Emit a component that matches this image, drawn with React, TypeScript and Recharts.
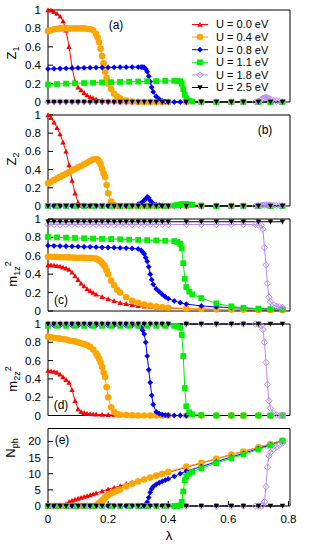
import React from 'react';
import { LineChart, Line, XAxis, YAxis } from 'recharts';

// ---------- data ----------
const lamTicks = [0, 0.2, 0.4, 0.6, 0.8];
const unitTicks = [0, 0.2, 0.4, 0.6, 0.8, 1];
const nphTicks = [0, 5, 10, 15, 20];

// U = 0.0 eV
const lamU00 = [0,0.01,0.02,0.03,0.04,0.05,0.06,0.07,0.08,0.09,0.1,0.11,0.12,0.13,0.14,0.15,0.16,0.18,0.2,0.22,0.24,0.26,0.28,0.3,0.32,0.34,0.36,0.38,0.4,0.46,0.51,0.56,0.61,0.65,0.7,0.74,0.78];
const z1U00 = [1,0.995,0.98,0.96,0.93,0.88,0.78,0.6,0.38,0.22,0.16,0.13,0.1,0.075,0.055,0.04,0.03,0.015,0.008,0.004,0,0,0,0,0,0,0,0,0,0,0,0,0,0,0,0,0];
const z2U00 = [1,0.97,0.92,0.86,0.79,0.7,0.6,0.45,0.28,0.14,0.04,0.005,0,0,0,0,0,0,0,0,0,0,0,0,0,0,0,0,0,0,0,0,0,0,0,0,0];
const m1U00 = [0.5,0.5,0.495,0.49,0.485,0.475,0.465,0.45,0.42,0.38,0.34,0.3,0.27,0.24,0.22,0.2,0.18,0.155,0.13,0.11,0.09,0.078,0.066,0.056,0.05,0.045,0.04,0.036,0.032,0.025,0.02,0.016,0.014,0.012,0.011,0.01,0.009];
const m2U00 = [0.49,0.485,0.48,0.47,0.45,0.42,0.39,0.36,0.28,0.16,0.07,0.04,0.03,0.022,0.018,0.015,0.013,0.01,0.008,0.006,0.005,0.004,0.003,0,0,0,0,0,0,0,0,0,0,0,0,0,0];
const nU00 = [0,0,0,0,0.05,0.2,0.6,1.3,1.7,2,2.3,2.6,2.9,3.1,3.4,3.7,4,4.6,5.2,5.7,6.2,6.8,7.3,7.9,8.4,8.9,9.4,9.9,10.4,12,13.3,14.6,15.9,16.9,18.2,19.2,20.3];

// U = 0.4 eV
const lamU04 = [0,0.01,0.02,0.03,0.04,0.05,0.06,0.07,0.08,0.09,0.1,0.11,0.12,0.13,0.14,0.15,0.16,0.165,0.17,0.175,0.18,0.185,0.19,0.195,0.2,0.21,0.22,0.23,0.24,0.26,0.28,0.3,0.32,0.34,0.36,0.38,0.4,0.46,0.51,0.56,0.61,0.65,0.7,0.74,0.78];
const z1U04 = [0.77,0.78,0.79,0.795,0.8,0.8,0.8,0.8,0.8,0.8,0.8,0.8,0.8,0.795,0.79,0.78,0.74,0.7,0.65,0.58,0.5,0.42,0.33,0.26,0.2,0.14,0.09,0.06,0.04,0.015,0.005,0,0,0,0,0,0,0,0,0,0,0,0,0,0];
const z2U04 = [0.25,0.267,0.285,0.302,0.32,0.337,0.354,0.372,0.39,0.406,0.424,0.44,0.458,0.476,0.494,0.51,0.515,0.51,0.49,0.46,0.41,0.36,0.32,0.23,0.14,0.05,0.01,0,0,0,0,0,0,0,0,0,0,0,0,0,0,0,0,0,0];
const m1U04 = [0.59,0.59,0.59,0.588,0.586,0.585,0.584,0.583,0.582,0.58,0.579,0.578,0.577,0.576,0.575,0.573,0.57,0.56,0.55,0.54,0.52,0.5,0.48,0.44,0.4,0.33,0.28,0.23,0.2,0.15,0.11,0.09,0.07,0.058,0.048,0.04,0.035,0.027,0.022,0.018,0.015,0.013,0.012,0.011,0.01];
const m2U04 = [0.86,0.855,0.85,0.845,0.84,0.835,0.83,0.82,0.815,0.81,0.8,0.79,0.78,0.77,0.75,0.72,0.68,0.65,0.62,0.58,0.53,0.47,0.42,0.31,0.2,0.09,0.04,0.015,0.008,0.005,0.003,0,0,0,0,0,0,0,0,0,0,0,0,0,0];
const nU04 = [0,0,0,0,0,0,0,0,0,0,0,0,0,0,0,0,0.1,0.5,0.9,1.3,1.7,2.1,2.6,3,3.4,3.9,4.3,4.7,5.1,6.1,6.9,7.6,8.2,8.8,9.4,10,10.6,12.2,13.4,14.6,15.9,16.9,18.2,19.2,20.3];

// U = 0.8 eV
const lamU08 = [0,0.02,0.04,0.06,0.08,0.1,0.12,0.14,0.16,0.18,0.2,0.22,0.24,0.26,0.28,0.3,0.31,0.315,0.32,0.325,0.33,0.335,0.34,0.345,0.35,0.36,0.37,0.38,0.39,0.4,0.42,0.44,0.46,0.51,0.56,0.61,0.65,0.7,0.74,0.78];
const z1U08 = [0.36,0.362,0.364,0.366,0.368,0.37,0.372,0.373,0.374,0.375,0.376,0.377,0.378,0.379,0.38,0.38,0.38,0.38,0.375,0.36,0.33,0.28,0.22,0.16,0.11,0.06,0.03,0.012,0.005,0,0,0,0,0,0,0,0,0,0,0];
const z2U08 = [0,0,0,0,0,0,0,0,0,0,0,0,0,0,0.005,0.02,0.035,0.045,0.06,0.08,0.1,0.09,0.06,0.04,0.025,0.015,0.008,0.004,0,0,0,0,0,0,0,0,0,0,0,0];
const m1U08 = [0.71,0.708,0.706,0.704,0.702,0.7,0.698,0.696,0.694,0.692,0.69,0.688,0.686,0.684,0.68,0.675,0.66,0.64,0.62,0.58,0.54,0.48,0.4,0.34,0.29,0.24,0.21,0.18,0.155,0.135,0.11,0.09,0.075,0.055,0.044,0.036,0.031,0.026,0.023,0.02];
const m2U08 = [0.985,0.985,0.985,0.985,0.985,0.985,0.985,0.985,0.985,0.985,0.985,0.985,0.985,0.985,0.985,0.985,0.96,0.93,0.89,0.8,0.65,0.5,0.36,0.22,0.12,0.04,0.02,0.01,0.005,0.003,0,0,0,0,0,0,0,0,0,0];
const nU08 = [0,0,0,0,0,0,0,0,0,0,0,0,0,0,0,0,0,0.05,0.2,0.5,1.2,2.6,4.2,5.3,6,6.7,7.2,7.6,8,8.4,9.2,10,10.8,12.2,13.7,15.2,16.3,17.8,18.9,20.1];

// U = 1.1 eV
const lamU11 = [0,0.03,0.06,0.09,0.12,0.15,0.18,0.21,0.24,0.27,0.3,0.33,0.36,0.39,0.42,0.43,0.44,0.445,0.45,0.455,0.46,0.47,0.48,0.51,0.56,0.61,0.65,0.7,0.74,0.78];
const z1U11 = [0.19,0.195,0.2,0.203,0.206,0.209,0.212,0.215,0.218,0.22,0.222,0.225,0.227,0.229,0.23,0.23,0.225,0.2,0.14,0.08,0.04,0.015,0.005,0,0,0,0,0,0,0];
const z2U11 = [0,0,0,0,0,0,0,0,0,0,0,0,0,0,0.005,0.01,0.015,0.018,0.02,0.02,0.02,0.018,0.012,0.005,0,0,0,0,0,0];
const m1U11 = [0.805,0.8,0.797,0.794,0.791,0.788,0.785,0.782,0.779,0.776,0.773,0.77,0.767,0.763,0.76,0.75,0.73,0.68,0.52,0.35,0.26,0.21,0.18,0.14,0.082,0.05,0.035,0.025,0.02,0.018];
const m2U11 = [0.98,0.98,0.98,0.98,0.98,0.98,0.98,0.98,0.98,0.98,0.98,0.98,0.98,0.98,0.98,0.975,0.96,0.88,0.65,0.3,0.1,0.035,0.012,0.004,0,0,0,0,0,0];
const nU11 = [0,0,0,0,0,0,0,0,0,0,0,0,0,0,0,0,0.2,1.3,4.5,8,9.2,10,10.6,11.7,13.3,14.8,16,17.5,18.7,20.2];

// U = 1.8 eV
const lamU18 = [0,0.02,0.04,0.06,0.08,0.1,0.12,0.14,0.16,0.18,0.2,0.22,0.24,0.26,0.28,0.3,0.32,0.34,0.36,0.38,0.4,0.46,0.51,0.56,0.61,0.65,0.69,0.7,0.71,0.715,0.72,0.725,0.73,0.735,0.74,0.75,0.76,0.77,0.78];
const z1U18 = [0,0,0,0,0,0,0,0,0,0,0,0,0,0,0,0,0,0,0,0,0,0,0,0,0,0,0,0.01,0.03,0.04,0.045,0.05,0.045,0.04,0.03,0.015,0.01,0.005,0.003];
const z2U18 = [0,0,0,0,0,0,0,0,0,0,0,0,0,0,0,0,0,0,0,0,0,0,0,0,0,0,0,0.005,0.008,0.01,0.012,0.012,0.012,0.01,0.01,0.008,0.006,0.005,0.004];
const m1U18 = [0.94,0.94,0.94,0.94,0.94,0.94,0.94,0.94,0.94,0.94,0.94,0.94,0.94,0.94,0.94,0.94,0.94,0.94,0.94,0.94,0.94,0.94,0.94,0.94,0.94,0.94,0.94,0.935,0.93,0.89,0.69,0.5,0.3,0.15,0.1,0.066,0.05,0.045,0.04];
const m2U18 = [1,1,1,1,1,1,1,1,1,1,1,1,1,1,1,1,1,1,1,1,1,1,1,1,1,1,1,0.995,0.98,0.94,0.8,0.58,0.34,0.16,0.08,0.025,0.008,0,0];
const nU18 = [0,0,0,0,0,0,0,0,0,0,0,0,0,0,0,0,0,0,0,0,0,0,0,0,0,0,0,0,0,0.3,1.3,6,12,15.5,16.6,17.6,18.3,18.9,19.5];

// U = 2.5 eV
const lamU25 = [0,0.02,0.04,0.06,0.08,0.1,0.12,0.14,0.16,0.18,0.2,0.22,0.24,0.26,0.28,0.3,0.32,0.34,0.36,0.38,0.4,0.46,0.51,0.56,0.61,0.65,0.7,0.74,0.78];
const zeroU25 = [0,0,0,0,0,0,0,0,0,0,0,0,0,0,0,0,0,0,0,0,0,0,0,0,0,0,0,0,0];
const m1U25 = [0.97,0.97,0.97,0.97,0.97,0.97,0.97,0.97,0.97,0.97,0.97,0.97,0.97,0.97,0.97,0.97,0.97,0.97,0.97,0.97,0.97,0.97,0.97,0.97,0.97,0.97,0.97,0.97,0.97];
const m2U25 = [1,1,1,1,1,1,1,1,1,1,1,1,1,1,1,1,1,1,1,1,1,1,1,1,1,1,1,1,1];

const seriesNames = ['U = 0.0 eV', 'U = 0.4 eV', 'U = 0.8 eV', 'U = 1.1 eV', 'U = 1.8 eV', 'U = 2.5 eV'];

type MarkType = 'tri' | 'circ' | 'dia' | 'sq' | 'odia' | 'itri';

const series: { name: string; color: string; mark: MarkType; lam: number[]; vals: number[][] }[] = [
  { name: seriesNames[0], color: '#ff0000', mark: 'tri', lam: lamU00, vals: [z1U00, z2U00, m1U00, m2U00, nU00] },
  { name: seriesNames[1], color: '#ffa500', mark: 'circ', lam: lamU04, vals: [z1U04, z2U04, m1U04, m2U04, nU04] },
  { name: seriesNames[2], color: '#0000ff', mark: 'dia', lam: lamU08, vals: [z1U08, z2U08, m1U08, m2U08, nU08] },
  { name: seriesNames[3], color: '#00ee00', mark: 'sq', lam: lamU11, vals: [z1U11, z2U11, m1U11, m2U11, nU11] },
  { name: seriesNames[4], color: '#b48ef2', mark: 'odia', lam: lamU18, vals: [z1U18, z2U18, m1U18, m2U18, nU18] },
  { name: seriesNames[5], color: '#000000', mark: 'itri', lam: lamU25, vals: [zeroU25, zeroU25, m1U25, m2U25, zeroU25] },
];

// ---------- layout ----------
const W = 312;
const H = 545;
const FONT = 'Liberation Sans, Arial, Helvetica, sans-serif';

const panels = [
  { top: 10, bottom: 102, domain: [0, 1], ticks: unitTicks, tag: '(a)', tagX: 116, tagY: 25 },
  { top: 115, bottom: 206, domain: [0, 1], ticks: unitTicks, tag: '(b)', tagX: 265, tagY: 130 },
  { top: 219, bottom: 311, domain: [0, 1], ticks: unitTicks, tag: '(c)', tagX: 61, tagY: 300 },
  { top: 324, bottom: 415.5, domain: [0, 1], ticks: unitTicks, tag: '(d)', tagX: 61, tagY: 405 },
  { top: 428.5, bottom: 506, domain: [0, 24], ticks: nphTicks, tag: '(e)', tagX: 62, tagY: 440 },
];

function renderMark(type: MarkType, cx: number, cy: number, color: string, key: string) {
  if (cx == null || cy == null || isNaN(cx) || isNaN(cy)) return <g key={key} />;
  switch (type) {
    case 'tri': {
      const s = 2.7;
      return <path key={key} d={`M${cx},${cy - s}L${cx + s},${cy + s * 0.8}L${cx - s},${cy + s * 0.8}Z`} fill={color} />;
    }
    case 'itri': {
      const s = 2.7;
      return <path key={key} d={`M${cx},${cy + s}L${cx + s},${cy - s * 0.8}L${cx - s},${cy - s * 0.8}Z`} fill={color} />;
    }
    case 'circ':
      return <circle key={key} cx={cx} cy={cy} r={3.3} fill={color} />;
    case 'dia': {
      const s = 2.9;
      return <path key={key} d={`M${cx},${cy - s}L${cx + s},${cy}L${cx},${cy + s}L${cx - s},${cy}Z`} fill={color} />;
    }
    case 'sq': {
      const s = 2.9;
      return <rect key={key} x={cx - s} y={cy - s} width={2 * s} height={2 * s} fill={color} />;
    }
    case 'odia': {
      const s = 3.2;
      return <path key={key} d={`M${cx},${cy - s}L${cx + s},${cy}L${cx},${cy + s}L${cx - s},${cy}Z`} fill="none" stroke={color} strokeWidth={1} />;
    }
  }
  return <g key={key} />;
}

const SUB = 9;

function YLabel({ which }: { which: number }) {
  const common = { fontFamily: FONT, fontSize: 13, fill: '#000', textAnchor: 'middle' as const };
  if (which === 0 || which === 1) {
    const x = 16, y = which === 0 ? 53 : 159;
    return (
      <text x={x} y={y} transform={`rotate(-90 ${x} ${y})`} {...common}>
        Z<tspan dy={3} fontSize={SUB}>{which === 0 ? '1' : '2'}</tspan>
      </text>
    );
  }
  if (which === 2 || which === 3) {
    const x = 17, y = which === 2 ? 274 : 379;
    return (
      <text x={x} y={y} transform={`rotate(-90 ${x} ${y})`} {...common}>
        m<tspan dy={3} fontSize={SUB}>{which === 2 ? '1z' : '2z'}</tspan>
        <tspan dy={-9} fontSize={SUB}>2</tspan>
      </text>
    );
  }
  const x = 15, y = 448;
  return (
    <text x={x} y={y} transform={`rotate(-90 ${x} ${y})`} {...common}>
      N<tspan dy={3} fontSize={SUB}>ph</tspan>
    </text>
  );
}

function TopDecor({ which }: { which: number }) {
  const p = panels[which];
  return (
    <g>
      <text x={p.tagX} y={p.tagY} dy="0.36em" textAnchor="middle" fontFamily={FONT} fontSize={12} fill="#000">
        {p.tag}
      </text>
      {which === 0 &&
        series.map((s, i) => {
          const y = 24.5 + i * 12.6;
          return (
            <g key={s.name}>
              <line x1={192} x2={208} y1={y} y2={y} stroke={s.color} strokeWidth={1} />
              {renderMark(s.mark, 200, y, s.color, 'lm' + i)}
              <text x={216} y={y} dy="0.36em" fontFamily={FONT} fontSize={11} fill="#000">
                {s.name}
              </text>
            </g>
          );
        })}
    </g>
  );
}

function XLabel() {
  return (
    <text x={169} y={535} dy="0.36em" textAnchor="middle" fontFamily={FONT} fontSize={13} fill="#000">
      λ
    </text>
  );
}

function Panel({ which }: { which: number }) {
  const p = panels[which];
  const last = which === panels.length - 1;
  const tickStyle = { fontFamily: FONT, fontSize: 11.5, fill: '#000' };
  return (
    <div style={{ position: 'absolute', left: 0, top: 0 }}>
      <LineChart width={W} height={H} margin={{ top: p.top - 1, bottom: H - p.bottom - 1, left: 0, right: 0 }}>
        <XAxis
          xAxisId={0}
          type="number"
          dataKey="x"
          domain={[0, 0.805]}
          ticks={lamTicks}
          interval={0}
          height={1}
          tickSize={-5}
          tickMargin={13.8}
          tick={last ? tickStyle : false}
          stroke="#000"
          label={last ? <XLabel /> : undefined}
        />
        <XAxis
          xAxisId="t"
          orientation="top"
          type="number"
          dataKey="x"
          domain={[0, 0.805]}
          allowDataOverflow
          ticks={lamTicks}
          interval={0}
          height={1}
          tickSize={-5}
          tick={false}
          stroke="#000"
          label={<TopDecor which={which} />}
        />
        <YAxis
          yAxisId={0}
          type="number"
          domain={p.domain}
          ticks={p.ticks}
          interval={0}
          width={48}
          tickSize={-5}
          tickMargin={12}
          tick={tickStyle}
          stroke="#000"
          label={<YLabel which={which} />}
        />
        <YAxis
          yAxisId="r"
          orientation="right"
          type="number"
          domain={p.domain}
          allowDataOverflow
          ticks={p.ticks}
          interval={0}
          width={22}
          tickSize={-5}
          tick={false}
          stroke="#000"
        />
        {series.map((s, si) => {
          const data = s.lam.map((x, i) => ({ x, y: s.vals[which][i] }));
          return (
            <Line
              key={s.name}
              xAxisId={0}
              yAxisId={0}
              data={data}
              dataKey="y"
              type="linear"
              stroke={s.color}
              strokeWidth={1}
              isAnimationActive={false}
              activeDot={false}
              dot={(props: any) => renderMark(s.mark, props.cx, props.cy, s.color, `d${si}-${props.index}`)}
            />
          );
        })}
      </LineChart>
    </div>
  );
}

export default function App() {
  return (
    <div style={{ position: 'absolute', left: 0, top: 0, width: W, height: H, background: '#fff' }}>
      {panels.map((_, i) => (
        <Panel key={i} which={i} />
      ))}
    </div>
  );
}
